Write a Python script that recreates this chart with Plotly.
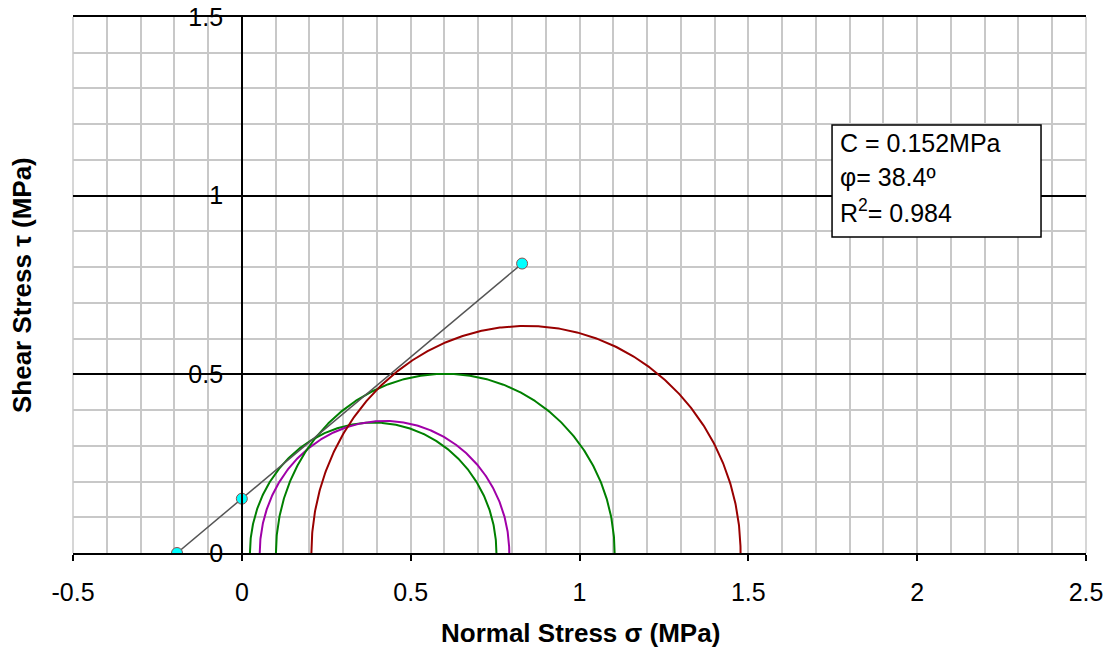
import numpy as np
import plotly.graph_objects as go

# Mohr circles: minor and major principal stresses (MPa)
circle_sigma3 = [0.024, 0.053, 0.101, 0.206]
circle_sigma1 = [0.754, 0.792, 1.104, 1.477]
circle_colors = ["#008000", "#A000A8", "#008000", "#990000"]

# Failure envelope points (MPa)
env_x = [-0.192, 0.0, 0.83]
env_y = [0.0, 0.152, 0.81]

x_ticks = [-0.5, 0, 0.5, 1, 1.5, 2, 2.5]
x_labels = ["-0.5", "0", "0.5", "1", "1.5", "2", "2.5"]
y_ticks = [0, 0.5, 1, 1.5]
y_labels = ["0", "0.5", "1", "1.5"]

FONT = "Liberation Sans, Arial, sans-serif"
FS = 25
FT = 26

fig = go.Figure()

theta = np.linspace(np.pi, 0, 400)
for s3, s1, col in zip(circle_sigma3, circle_sigma1, circle_colors):
    c = (s1 + s3) / 2
    r = (s1 - s3) / 2
    fig.add_trace(go.Scatter(
        x=c + r * np.cos(theta), y=r * np.sin(theta),
        mode="lines", line=dict(color=col, width=2), showlegend=False,
        hoverinfo="skip"))

fig.add_trace(go.Scatter(
    x=env_x, y=env_y, mode="lines+markers",
    line=dict(color="#555555", width=1.5),
    marker=dict(size=11, color="#00FFFF", line=dict(color="#8a5050", width=1)),
    showlegend=False))

GRID = "#c8c8c8"

fig.update_layout(
    width=1106, height=644,
    margin=dict(l=65, r=28, t=9, b=99),
    paper_bgcolor="white", plot_bgcolor="white",
    font=dict(family=FONT, size=FS, color="black"),
    xaxis=dict(
        range=[-0.5, 2.5], tickvals=x_ticks, ticktext=x_labels,
        automargin=False, ticklabeloverflow="allow",
        showgrid=True, gridcolor=GRID, gridwidth=1.5,
        minor=dict(dtick=0.1, tick0=0, showgrid=True, gridcolor=GRID, gridwidth=1.5, ticks=""),
        zeroline=True, zerolinecolor="black", zerolinewidth=1.5,
        showline=True, linecolor="black", linewidth=1.5, mirror=True,
        ticks="outside", ticklen=6, tickcolor="black", tickwidth=1.5,
        ticklabelstandoff=10,
        tickfont=dict(size=FS),
    ),
    yaxis=dict(
        range=[0, 1.5], tickvals=y_ticks, ticktext=y_labels,
        anchor="free", position=1/6, automargin=False, ticklabeloverflow="allow",
        showgrid=True, gridcolor="black", gridwidth=1.5,
        minor=dict(dtick=0.1, tick0=0, showgrid=True, gridcolor=GRID, gridwidth=1.5, ticks=""),
        zeroline=False,
        showline=True, linecolor="black", linewidth=1.5,
        ticks="", ticklabelstandoff=13,
        tickfont=dict(size=FS),
    ),
    shapes=[
        dict(type="line", xref="paper", yref="paper", x0=0, x1=0, y0=0, y1=1,
             line=dict(color=GRID, width=1.5), layer="below"),
        dict(type="line", xref="paper", yref="paper", x0=1, x1=1, y0=0, y1=1,
             line=dict(color=GRID, width=1.5), layer="below"),
        dict(type="rect", xref="paper", yref="paper",
             x0=0.7493, x1=0.9556, y0=0.5896, y1=0.7985,
             fillcolor="white", line=dict(color="black", width=1.5), layer="above"),
    ],
    annotations=[
        dict(text="<b>Normal Stress σ (MPa)</b>", xref="paper", yref="paper",
             x=0.5005, y=-0.149, xanchor="center", yanchor="middle",
             showarrow=False, font=dict(size=FT)),
        dict(text="<b>Shear Stress τ (MPa)</b>", xref="paper", yref="paper",
             x=-0.0503, y=0.5, xanchor="center", yanchor="middle", textangle=-90,
             showarrow=False, font=dict(size=FT)),
        dict(text="C = 0.152MPa", xref="paper", yref="paper",
             x=0.755, y=(553 - 143) / 536, xanchor="left", yanchor="middle",
             showarrow=False, font=dict(size=FS)),
        dict(text="φ= 38.4º", xref="paper", yref="paper",
             x=0.755, y=(553 - 177) / 536, xanchor="left", yanchor="middle",
             showarrow=False, font=dict(size=FS)),
        dict(text="R<sup>2</sup>= 0.984", xref="paper", yref="paper",
             x=0.755, y=(553 - 211) / 536, xanchor="left", yanchor="middle",
             showarrow=False, font=dict(size=FS)),
    ],
)

fig.write_html("out.html")
